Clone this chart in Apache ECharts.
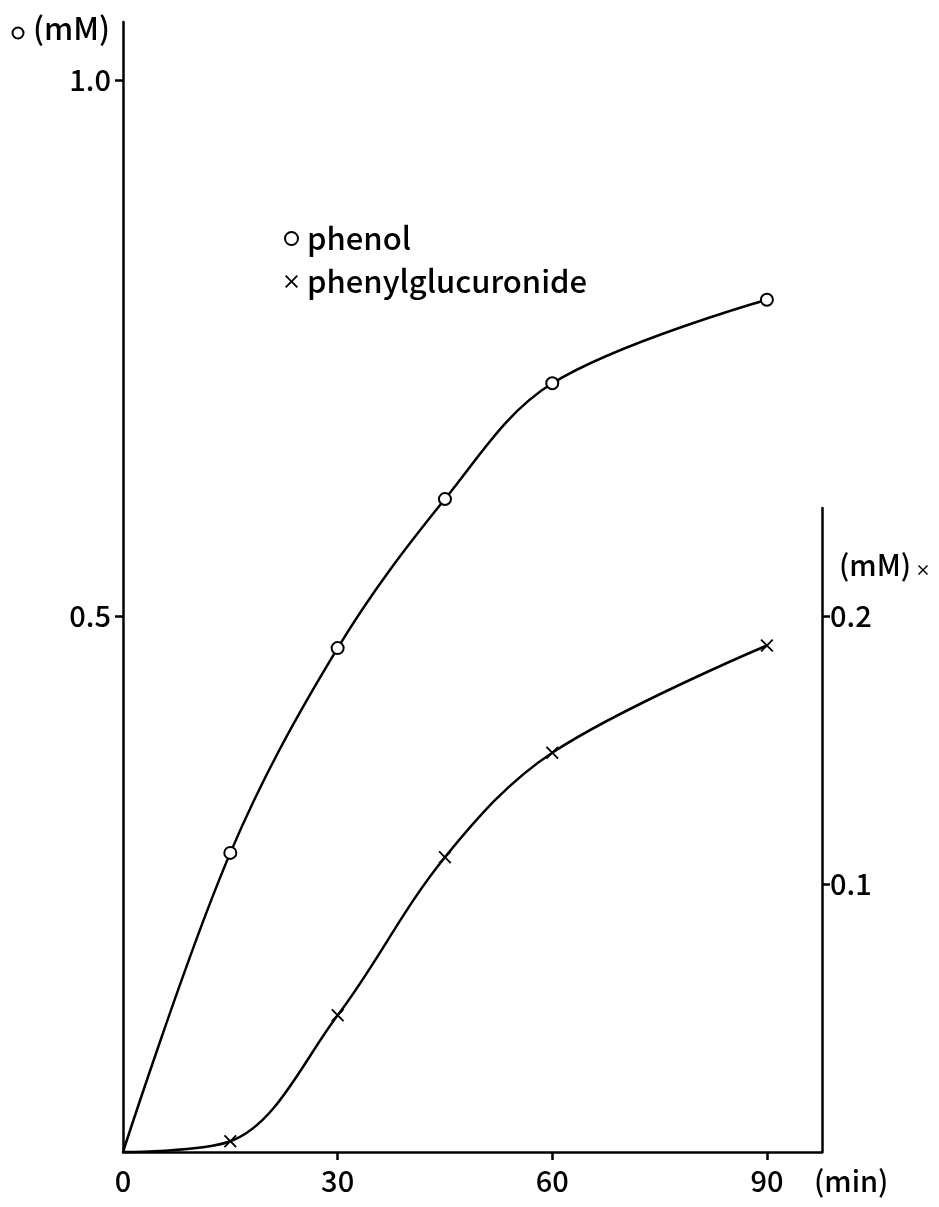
<!DOCTYPE html>
<html>
<head>
<meta charset="utf-8">
<script src="https://cdn.jsdelivr.net/npm/echarts@6/dist/echarts.min.js"></script>
<style>
  html, body { margin: 0; padding: 0; background: #fff; }
  #myChart { width: 939px; height: 1207px; }
</style>
</head>
<body>
<div id="myChart"></div>
<script>
  // 时间 (min)
  var times = [0, 15, 30, 45, 60, 90]
  // phenol (mM, left axis)
  var phenol = [0, 0.279, 0.470, 0.609, 0.717, 0.795]
  // phenylglucuronide (mM, right axis)
  var glucuronide = [0, 0.004, 0.051, 0.110, 0.149, 0.189]
  // tick labels
  var xTicks = [0, 30, 60, 90]
  var leftTicks = [0.5, 1.0]
  var rightTicks = [0.1, 0.2]

  var FONT = '"Noto Sans CJK JP", "Noto Sans", sans-serif'
  var xPath = 'path://M0,1 L1,0 L5,4 L9,0 L10,1 L6,5 L10,9 L9,10 L5,6 L1,10 L0,9 L4,5 Z'
  var xPoly = [[0,1],[1,0],[5,4],[9,0],[10,1],[6,5],[10,9],[9,10],[5,6],[1,10],[0,9],[4,5]]

  // 原点不画标记
  function pairs(xs, ys) {
    return xs.map(function (x, i) {
      var item = { value: [x, ys[i]] }
      if (i === 0) item.symbol = 'none'
      return item
    })
  }

  var axisLineStyle = { color: '#000', width: 2.5 }
  var labelStyle = { color: '#000', fontSize: 29, fontWeight: 500, fontFamily: FONT }

  var myChart = echarts.init(document.getElementById('myChart'))
  myChart.setOption({
    backgroundColor: '#fff',
    animation: false,
    grid: [
      { left: 123, right: 117, top: 22, bottom: 55 },
      { left: 123, right: 117, top: 508, bottom: 55 }
    ],
    xAxis: [{
      type: 'value', gridIndex: 0, min: 0, max: 97.7,
      axisLine: { onZero: false, lineStyle: axisLineStyle },
      axisTick: { show: true, inside: false, length: 8, lineStyle: axisLineStyle, customValues: [30, 60, 90] },
      axisLabel: Object.assign({ margin: 14, customValues: xTicks }, labelStyle),
      splitLine: { show: false }
    }, {
      type: 'value', gridIndex: 1, min: 0, max: 97.7, show: false
    }],
    yAxis: [{
      type: 'value', gridIndex: 0, min: 0, max: 1.054,
      axisLine: { show: true, onZero: false, lineStyle: axisLineStyle },
      axisTick: { show: true, length: 8, lineStyle: axisLineStyle, customValues: leftTicks },
      axisLabel: Object.assign({ margin: 12, customValues: leftTicks,
        formatter: function (v) { return v.toFixed(1) } }, labelStyle),
      splitLine: { show: false }
    }, {
      type: 'value', gridIndex: 1, position: 'right', min: 0, max: 0.2403,
      axisLine: { show: true, onZero: false, lineStyle: axisLineStyle },
      axisTick: { show: true, length: 8, lineStyle: axisLineStyle, customValues: rightTicks },
      axisLabel: Object.assign({ margin: 8, customValues: rightTicks,
        formatter: function (v) { return v.toFixed(1) } }, labelStyle),
      splitLine: { show: false }
    }],
    legend: {
      orient: 'vertical', left: 279, top: 218, itemWidth: 13, itemHeight: 13, itemGap: 12,
      textStyle: { color: '#000', fontSize: 31, fontWeight: 500, fontFamily: FONT, padding: [0, 0, 0, 4] },
      data: [
        { name: 'phenol', icon: 'emptyCircle' },
        { name: 'phenylglucuronide', icon: xPath }
      ]
    },
    graphic: [
      { type: 'circle', shape: { cx: 18, cy: 33, r: 5.5 }, style: { fill: '#fff', stroke: '#000', lineWidth: 2 } },
      { type: 'text', left: 33, top: 13, style: { text: '(mM)', fill: '#000', fontSize: 31, fontWeight: 500, fontFamily: FONT } },
      { type: 'text', left: 839, top: 550, style: { text: '(mM)', fill: '#000', fontSize: 29, fontWeight: 500, fontFamily: FONT } },
      { type: 'polygon', x: 918, y: 565, shape: { points: xPoly }, style: { fill: '#000' } },
      { type: 'text', left: 814, top: 1166, style: { text: '(min)', fill: '#000', fontSize: 29, fontWeight: 500, fontFamily: FONT } }
    ],
    series: [{
      name: 'phenol', type: 'line', xAxisIndex: 0, yAxisIndex: 0,
      data: pairs(times, phenol), smooth: 0.35,
      symbol: 'emptyCircle', symbolSize: 12,
      lineStyle: { color: '#000', width: 2.5 },
      itemStyle: { color: '#000', borderWidth: 2 }
    }, {
      name: 'phenylglucuronide', type: 'line', xAxisIndex: 1, yAxisIndex: 1,
      data: pairs(times, glucuronide), smooth: 0.35,
      symbol: xPath, symbolSize: 13,
      lineStyle: { color: '#000', width: 2.5 },
      itemStyle: { color: '#000' }
    }]
  })
</script>
</body>
</html>
